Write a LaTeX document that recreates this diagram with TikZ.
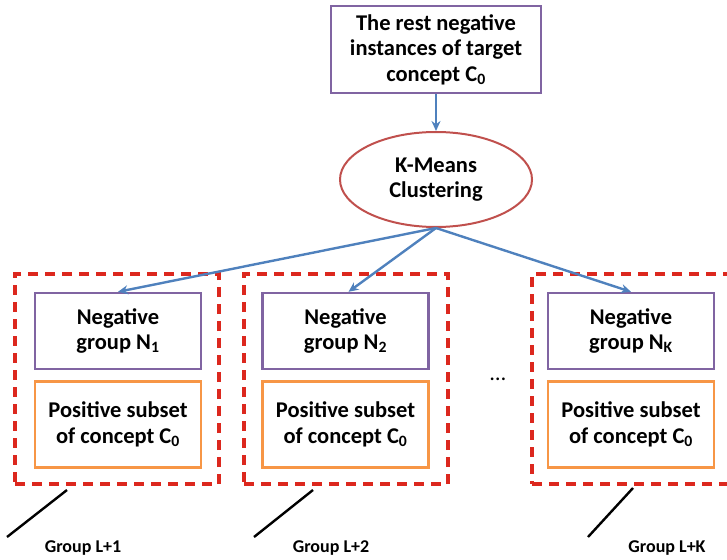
\documentclass[tikz,border=0pt]{standalone}
\usepackage{fontspec}
\setmainfont{Carlito}
\usetikzlibrary{shapes.geometric, arrows.meta, positioning}
\definecolor{boxpurple}{RGB}{128,100,162}
\definecolor{boxorange}{RGB}{247,150,70}
\definecolor{grpred}{RGB}{220,40,30}
\definecolor{ellred}{RGB}{192,80,77}
\definecolor{arrblue}{RGB}{79,129,189}

\begin{document}
\begin{tikzpicture}[
    x=1pt, y=-1pt,
    >=Stealth,
    every node/.style={font=\bfseries\fontsize{22.5}{25.5}\selectfont, align=center},
    negbox/.style={
        rectangle,
        draw=boxpurple,
        line width=2.4pt,
        minimum width=166pt,
        minimum height=76pt,
        inner sep=0pt
    },
    posbox/.style={
        rectangle,
        draw=boxorange,
        line width=2.4pt,
        minimum width=166pt,
        minimum height=86pt,
        inner sep=0pt
    },
    groupbox/.style={
        rectangle,
        draw=grpred,
        line width=3.2pt,
        dash pattern=on 10pt off 7pt,
        minimum height=210pt,
        inner sep=0pt
    },
    arrow/.style={-{Stealth[length=10pt,width=9pt]}, line width=2.4pt, draw=arrblue},
    tick/.style={line width=2.4pt, draw=black},
    grouplabel/.style={font=\bfseries\fontsize{18}{20}\selectfont}
]

\useasboundingbox (0,0) rectangle (727,559);

% Source and clustering
\node[rectangle, draw=boxpurple, line width=2.4pt, minimum width=210pt, minimum height=87pt, inner sep=0pt]
    (rest) at (436,49.5) {The rest negative\\instances of target\\concept C\textsubscript{0}};
\node[ellipse, draw=ellred, line width=2pt, minimum width=192pt, minimum height=95pt, inner sep=0pt]
    (kmeans) at (436,179.5) {K-Means\\Clustering};

% Groups (dashed frames)
\node[groupbox, minimum width=204pt] (grpA) at (117,379) {};
\node[groupbox, minimum width=204pt] (grpB) at (346,379) {};
\node[groupbox, minimum width=208pt] (grpK) at (636,379) {};

% Negative groups
\node[negbox] (negA) at (118,331) {Negative\\group N\textsubscript{1}};
\node[negbox] (negB) at (345.5,331) {Negative\\group N\textsubscript{2}};
\node[negbox] (negK) at (631,331) {Negative\\group N\textsubscript{K}};

% Positive subsets
\node[posbox, below=10pt of negA] (posA) {Positive subset\\of concept C\textsubscript{0}};
\node[posbox, below=10pt of negB] (posB) {Positive subset\\of concept C\textsubscript{0}};
\node[posbox, below=10pt of negK] (posK) {Positive subset\\of concept C\textsubscript{0}};

\node (dots) at (498,379) {\textmd{\ldots}};

% Group labels
\node[grouplabel] (labA) at (83,548) {Group L+1};
\node[grouplabel] (labB) at (331,548) {Group L+2};
\node[grouplabel] (labK) at (667,548) {Group L+K};

\coordinate (tickA1) at (67,490);
\coordinate (tickA2) at (7,537);
\coordinate (tickB1) at (313,490);
\coordinate (tickB2) at (254,537);
\coordinate (tickK1) at (633,488);
\coordinate (tickK2) at (588,537);

% Arrows
\draw[arrow] (rest) -- (kmeans);
\draw[arrow] (kmeans.south) -- (negA.north);
\draw[arrow] (kmeans.south) -- ([xshift=3pt]negB.north);
\draw[arrow] (kmeans.south) -- (negK.north);

% Ticks
\draw[tick] (tickA1) -- (tickA2);
\draw[tick] (tickB1) -- (tickB2);
\draw[tick] (tickK1) -- (tickK2);

\end{tikzpicture}
\end{document}
